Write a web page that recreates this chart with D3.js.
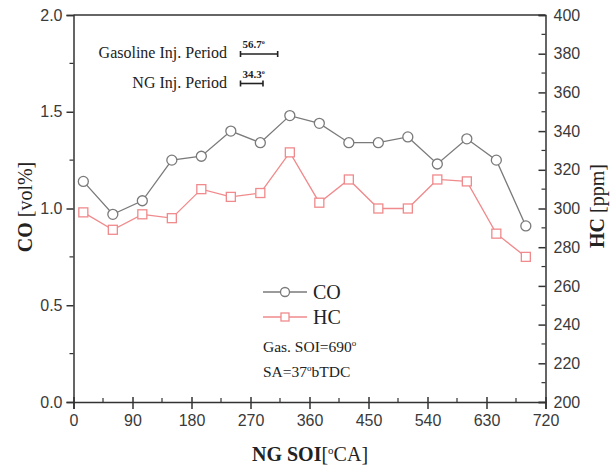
<!DOCTYPE html>
<head>
    <meta charset="utf-8">
    <title>CO and HC vs NG SOI</title>
    <style>
        body { margin: 0; background: #fff; }
        .tick text { font-family: "Liberation Sans", Arial, sans-serif; font-size: 16px; fill: #3a3a3a; }
        .domain, .tick line { stroke: #333; stroke-width: 1.5; }
        .serif { font-family: "Liberation Serif", "Times New Roman", serif; fill: #222; }
    </style>
</head>
<body>
    <svg width="613" height="468"></svg>
    <script src="https://d3js.org/d3.v7.min.js"></script>
    <script>

        // data
        var soi = [15, 60, 105, 150, 195, 240, 285, 330, 375, 420, 465, 510, 555, 600, 645, 690];
        var co = [1.14, 0.97, 1.04, 1.25, 1.27, 1.40, 1.34, 1.48, 1.44, 1.34, 1.34, 1.37, 1.23, 1.36, 1.25, 0.91];
        var hc = [298, 289, 297, 295, 310, 306, 308, 329, 303, 315, 300, 300, 315, 314, 287, 275];
        var xTicks = [0, 90, 180, 270, 360, 450, 540, 630, 720];
        var coTicks = [0, 0.5, 1.0, 1.5, 2.0];
        var hcTicks = [200, 220, 240, 260, 280, 300, 320, 340, 360, 380, 400];
        var injPeriods = [
            { name: "Gasoline Inj. Period", deg: 56.7 },
            { name: "NG Inj. Period", deg: 34.3 }
        ];

        var svg = d3.select("svg"),
            pLeft = 73.5, pRight = 545.5, pTop = 15, pBottom = 402;

        var x = d3.scaleLinear().domain([0, 720]).range([pLeft, pRight]);
        var yCO = d3.scaleLinear().domain([0, 2]).range([pBottom, pTop]);
        var yHC = d3.scaleLinear().domain([200, 400]).range([pBottom, pTop]);

        // top frame line
        svg.append("line")
            .attr("x1", pLeft).attr("x2", pRight).attr("y1", pTop).attr("y2", pTop)
            .attr("stroke", "#333").attr("stroke-width", 1.5);

        // minor ticks
        var minor = svg.append("g").attr("stroke", "#333").attr("stroke-width", 1.2);
        d3.range(45, 720, 90).forEach(function (v) {
            minor.append("line").attr("x1", x(v)).attr("x2", x(v)).attr("y1", pBottom).attr("y2", pBottom - 4);
        });
        d3.range(0.25, 2, 0.5).forEach(function (v) {
            minor.append("line").attr("x1", pLeft).attr("x2", pLeft - 4).attr("y1", yCO(v)).attr("y2", yCO(v));
        });
        d3.range(210, 400, 20).forEach(function (v) {
            minor.append("line").attr("x1", pRight).attr("x2", pRight - 4).attr("y1", yHC(v)).attr("y2", yHC(v));
        });

        svg.append("g")
            .attr("transform", "translate(0," + pBottom + ")")
            .call(d3.axisBottom(x).tickValues(xTicks).tickSize(7).tickPadding(6))
            .selectAll(".tick line").attr("y1", -5);

        svg.append("g")
            .attr("transform", "translate(" + pLeft + ",0)")
            .call(d3.axisLeft(yCO).tickValues(coTicks).tickFormat(d3.format(".1f")).tickSize(7).tickPadding(4));

        svg.append("g")
            .attr("transform", "translate(" + pRight + ",0)")
            .call(d3.axisRight(yHC).tickValues(hcTicks).tickSize(-7).tickPadding(8));

        // lines
        var lineCO = d3.line().x(function (d, i) { return x(soi[i]); }).y(function (d) { return yCO(d); });
        var lineHC = d3.line().x(function (d, i) { return x(soi[i]); }).y(function (d) { return yHC(d); });

        svg.append("path").datum(hc).attr("d", lineHC)
            .attr("fill", "none").attr("stroke", "#f08a8c").attr("stroke-width", 1.3);
        svg.append("path").datum(co).attr("d", lineCO)
            .attr("fill", "none").attr("stroke", "#7a7a7a").attr("stroke-width", 1.3);

        svg.selectAll(".hc").data(hc).enter().append("rect")
            .attr("x", function (d, i) { return x(soi[i]) - 4.5; })
            .attr("y", function (d) { return yHC(d) - 4.5; })
            .attr("width", 9).attr("height", 9)
            .attr("fill", "#fff").attr("stroke", "#f08a8c").attr("stroke-width", 1.3);

        svg.selectAll(".co").data(co).enter().append("circle")
            .attr("cx", function (d, i) { return x(soi[i]); })
            .attr("cy", function (d) { return yCO(d); })
            .attr("r", 5)
            .attr("fill", "#fff").attr("stroke", "#7a7a7a").attr("stroke-width", 1.3);

        // injection period bars
        injPeriods.forEach(function (p, i) {
            var yy = 54 + i * 29.5, x0 = 240.5, x1 = x0 + (x(p.deg) - x(0));
            svg.append("text").attr("class", "serif")
                .attr("x", 227).attr("y", yy + 4).attr("text-anchor", "end")
                .style("font-size", "16px").text(p.name);
            var g = svg.append("g").attr("stroke", "#222").attr("stroke-width", 1.6);
            g.append("line").attr("x1", x0).attr("x2", x1).attr("y1", yy).attr("y2", yy);
            g.append("line").attr("x1", x0).attr("x2", x0).attr("y1", yy - 3).attr("y2", yy + 3);
            g.append("line").attr("x1", x1).attr("x2", x1).attr("y1", yy - 3).attr("y2", yy + 3);
            var t = svg.append("text").attr("class", "serif")
                .attr("x", x0 + 2).attr("y", yy - 6)
                .style("font-size", "11px").style("font-weight", "bold").text(p.deg);
            t.append("tspan").attr("dy", -4).style("font-size", "6px").text("o");
        });

        // legend
        var legend = [
            { name: "CO", color: "#7a7a7a", y: 292 },
            { name: "HC", color: "#f08a8c", y: 317 }
        ];
        legend.forEach(function (l, i) {
            svg.append("line").attr("x1", 263).attr("x2", 307).attr("y1", l.y).attr("y2", l.y)
                .attr("stroke", l.color).attr("stroke-width", 1.3);
            if (i === 0) {
                svg.append("circle").attr("cx", 285).attr("cy", l.y).attr("r", 4.5)
                    .attr("fill", "#fff").attr("stroke", l.color).attr("stroke-width", 1.3);
            } else {
                svg.append("rect").attr("x", 281).attr("y", l.y - 4).attr("width", 8).attr("height", 8)
                    .attr("fill", "#fff").attr("stroke", l.color).attr("stroke-width", 1.3);
            }
            svg.append("text").attr("class", "serif").attr("x", 313).attr("y", l.y + 7)
                .style("font-size", "20px").text(l.name);
        });

        var note1 = svg.append("text").attr("class", "serif").attr("x", 263).attr("y", 352).style("font-size", "15.5px");
        note1.append("tspan").text("Gas. SOI=690");
        note1.append("tspan").attr("dy", -6).style("font-size", "9px").text("o");

        var note2 = svg.append("text").attr("class", "serif").attr("x", 263).attr("y", 377).style("font-size", "15.5px");
        note2.append("tspan").text("SA=37");
        note2.append("tspan").attr("dy", -6).style("font-size", "9px").text("o");
        note2.append("tspan").attr("dy", 6).text("bTDC");

        // axis titles
        var yl = svg.append("text").attr("class", "serif")
            .attr("transform", "translate(32,207) rotate(-90)").attr("text-anchor", "middle")
            .style("font-size", "20px");
        yl.append("tspan").style("font-weight", "bold").text("CO");
        yl.append("tspan").text(" [vol%]");

        var yr = svg.append("text").attr("class", "serif")
            .attr("transform", "translate(604,206) rotate(-90)").attr("text-anchor", "middle")
            .style("font-size", "20px");
        yr.append("tspan").style("font-weight", "bold").text("HC");
        yr.append("tspan").text(" [ppm]");

        var xl = svg.append("text").attr("class", "serif")
            .attr("x", 310).attr("y", 461).attr("text-anchor", "middle")
            .style("font-size", "20px");
        xl.append("tspan").style("font-weight", "bold").text("NG SOI");
        xl.append("tspan").text("[");
        xl.append("tspan").attr("dy", -7).style("font-size", "11px").text("o");
        xl.append("tspan").attr("dy", 7).text("CA]");

    </script>
</body>
